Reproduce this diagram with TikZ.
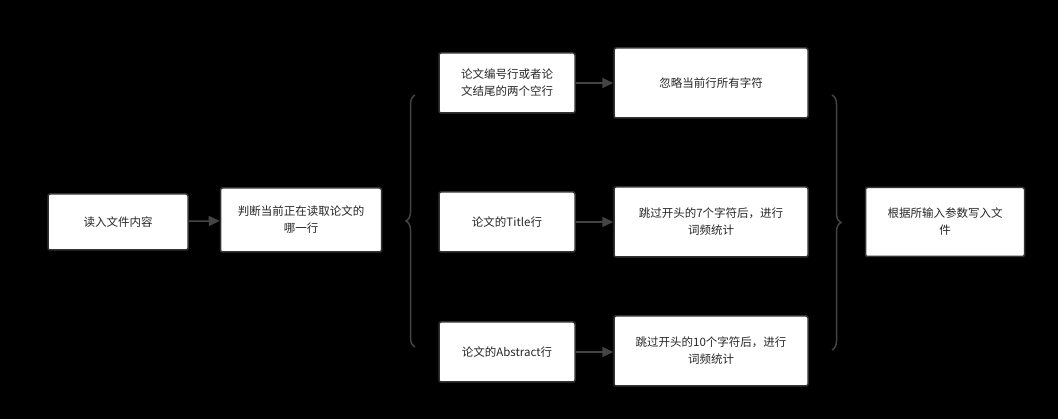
\documentclass[tikz,border=0pt]{standalone}
\usepackage{fontspec}
\setmainfont{Noto Sans CJK SC}
\usetikzlibrary{arrows.meta,decorations.pathreplacing}
\definecolor{bd}{HTML}{333333}
\definecolor{ar}{HTML}{444444}
\tikzset{
  box/.style={draw=bd,line width=1.5pt,fill=white,rounded corners=2pt,align=center,font=\fontsize{11.5}{17}\selectfont,text=black!85,inner sep=0pt},
  arr/.style={draw=ar,line width=1.5pt,-{Triangle[length=11pt,width=10pt]}},
  brc/.style={draw=ar,line width=1.5pt,decorate,decoration={brace,amplitude=9pt}}
}
\begin{document}
\begin{tikzpicture}[x=1pt,y=-1pt]
\fill[black] (0,0) rectangle (1058,419);
\useasboundingbox (0,0) rectangle (1058,419);
\node[box,minimum width=140,minimum height=56] (a) at (118,222) {读入文件内容};
\node[box,minimum width=161,minimum height=64] (b) at (301,220) {判断当前正在读取论文的\\哪一行};
\node[box,minimum width=136,minimum height=60] (c1) at (507,83) {论文编号行或者论\\文结尾的两个空行};
\node[box,minimum width=136,minimum height=60] (c2) at (507,222) {论文的Title行};
\node[box,minimum width=136,minimum height=60] (c3) at (507,352) {论文的Abstract行};
\node[box,minimum width=194,minimum height=70] (d1) at (711,83) {忽略当前行所有字符};
\node[box,minimum width=194,minimum height=70] (d2) at (711,222) {跳过开头的7个字符后，进行\\词频统计};
\node[box,minimum width=194,minimum height=70] (d3) at (711,351) {跳过开头的10个字符后，进行\\词频统计};
\node[box,minimum width=159,minimum height=69] (e) at (945,222) {根据所输入参数写入文\\件};
\draw[arr] (a) -- (b);
\draw[arr] (c1) -- (d1);
\draw[arr] (c2) -- (d2);
\draw[arr] (c3.east) -- (d3.west|-c3.east);
\coordinate (lb1) at (415,347);
\coordinate (lb2) at (415,95);
\draw[brc] (lb1) -- (lb2);
\coordinate (rb1) at (832,95);
\coordinate (rb2) at (832,350);
\draw[brc] (rb1) -- (rb2);
\end{tikzpicture}
\end{document}
